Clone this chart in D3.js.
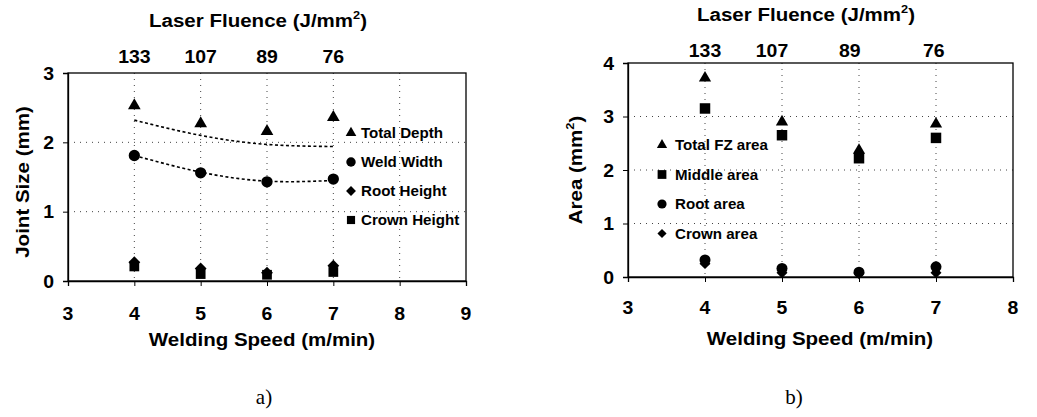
<!DOCTYPE html>
<html>
<head>
<meta charset="utf-8">
<script src="https://cdn.jsdelivr.net/npm/d3@7"></script>
<style>
  html, body { margin: 0; padding: 0; background: #fff; }
  svg { display: block; }
  .sans { font-family: "Liberation Sans", Arial, sans-serif; font-weight: bold; fill: #000; }
  .serif { font-family: "Liberation Serif", "Times New Roman", serif; fill: #000; }
</style>
</head>
<body>
<svg id="fig" width="1037" height="417"></svg>
<script>
// Welding speed positions and the matching laser fluence labels
const speeds = [4, 5, 6, 7];
const fluenceLabels = ["133", "107", "89", "76"];
const fluencePosA = [4, 5, 6, 7];
const fluencePosB = [4, 4.87, 5.88, 6.97];

// Panel a: joint size (mm)
const totalDepth  = [2.53, 2.27, 2.16, 2.36];
const weldWidth   = [1.81, 1.56, 1.43, 1.47];
const rootHeight  = [0.27, 0.18, 0.12, 0.22];
const crownHeight = [0.21, 0.10, 0.09, 0.13];
const depthTrend  = [2.32, 2.10, 1.97, 1.94];
const widthTrend  = [1.81, 1.57, 1.44, 1.45];

// Panel b: fusion zone areas (mm²)
const totalFZ    = [3.72, 2.90, 2.37, 2.86];
const middleArea = [3.15, 2.65, 2.22, 2.60];
const rootArea   = [0.32, 0.16, 0.09, 0.19];
const crownArea  = [0.25, 0.08, 0.06, 0.08];

// Tick values
const xTicksA = [3, 4, 5, 6, 7, 8, 9];
const yTicksA = [0, 1, 2, 3];
const xTicksB = [3, 4, 5, 6, 7, 8];
const yTicksB = [0, 1, 2, 3, 4];

const svg = d3.select("#fig");
const STRETCH = 1.08;

// Bold sans text, slightly widened
function label(parent, x, y, txt, size, anchor = "middle", rotate = 0) {
  const g = parent.append("g")
    .attr("transform", `translate(${x},${y}) rotate(${rotate}) scale(${STRETCH},1)`);
  return g.append("text").attr("class", "sans")
    .attr("font-size", size).attr("text-anchor", anchor).text(txt);
}
function labelSup(parent, x, y, pre, sup, post, size, anchor = "middle", rotate = 0) {
  const g = parent.append("g")
    .attr("transform", `translate(${x},${y}) rotate(${rotate}) scale(${STRETCH},1)`);
  const t = g.append("text").attr("class", "sans")
    .attr("font-size", size).attr("text-anchor", anchor);
  t.append("tspan").text(pre);
  t.append("tspan").attr("font-size", size * 0.62).attr("dy", -size * 0.4).text(sup);
  t.append("tspan").attr("dy", size * 0.4).text(post);
  return t;
}

const symbols = {
  triangle: (s) => d3.symbol().type(d3.symbolTriangle).size(s)(),
  circle:   (s) => d3.symbol().type(d3.symbolCircle).size(s)(),
  square:   (s) => d3.symbol().type(d3.symbolSquare).size(s)()
};
function marker(g, kind, x, y, s) {
  if (kind === "diamond") {
    g.append("path").attr("d", symbols.square(s))
      .attr("transform", `translate(${x},${y}) rotate(45)`).attr("fill", "#000");
  } else {
    g.append("path").attr("d", symbols[kind](s))
      .attr("transform", `translate(${x},${y})`).attr("fill", "#000");
  }
}

function panel(cfg) {
  const g = svg.append("g");
  const x = d3.scaleLinear().domain(cfg.xDomain).range([cfg.left, cfg.right]);
  const y = d3.scaleLinear().domain(cfg.yDomain).range([cfg.bottom, cfg.top]);

  // dotted grid
  const grid = g.append("g").attr("stroke", "#444").attr("stroke-width", 1)
    .attr("stroke-dasharray", "1,5").attr("fill", "none");
  cfg.yGrid.forEach(v => grid.append("line")
    .attr("x1", cfg.left).attr("x2", cfg.right).attr("y1", y(v)).attr("y2", y(v)));
  cfg.xGrid.forEach(v => grid.append("line")
    .attr("x1", x(v)).attr("x2", x(v)).attr("y1", cfg.top).attr("y2", cfg.bottom));

  // plot frame
  g.append("rect").attr("x", cfg.left).attr("y", cfg.top)
    .attr("width", cfg.right - cfg.left).attr("height", cfg.bottom - cfg.top)
    .attr("fill", "none").attr("stroke", "#000").attr("stroke-width", 1.3);

  // axes (ticks only; labels drawn below)
  g.append("g").attr("transform", `translate(0,${cfg.bottom})`)
    .call(d3.axisBottom(x).tickValues(cfg.xTicks).tickSize(5).tickFormat(""))
    .call(a => a.select(".domain").attr("stroke-width", 1.3));
  g.append("g").attr("transform", `translate(${cfg.left},0)`)
    .call(d3.axisLeft(y).tickValues(cfg.yTicks).tickSize(5).tickFormat(""))
    .call(a => a.select(".domain").attr("stroke-width", 1.3));

  cfg.xTicks.forEach(v => label(g, x(v), cfg.xTickBase, String(v), 18));
  cfg.yTicks.forEach(v => label(g, cfg.yTickEnd, y(v) + 6.5, String(v), 18, "end"));
  fluenceLabels.forEach((t, i) => label(g, x(cfg.fluencePos[i]), cfg.topTickBase, t, 18));

  labelSup(g, cfg.titleX, cfg.titleBase, "Laser Fluence (J/mm", "2", ")", 19);
  label(g, cfg.xTitleX, cfg.xTitleBase, "Welding Speed (m/min)", 19);
  cfg.yTitle(g);

  // trend lines
  const line = d3.line().x((d, i) => x(speeds[i])).y(d => y(d)).curve(d3.curveNatural);
  (cfg.trends || []).forEach(tr => g.append("path").attr("d", line(tr))
    .attr("fill", "none").attr("stroke", "#000").attr("stroke-width", 1.6)
    .attr("stroke-dasharray", "3,2.5"));

  // markers
  cfg.series.forEach(s => s.values.forEach((v, i) =>
    marker(g, s.kind, x(speeds[i]), y(v), s.size)));

  // legend
  cfg.series.forEach((s, i) => {
    const ly = cfg.legY + i * cfg.legStep;
    marker(g, s.kind, cfg.legX, ly, s.size * 0.7);
    label(g, cfg.legX + cfg.legGap, ly + 5, s.name, 14, "start");
  });
}

panel({
  xDomain: [3, 9], yDomain: [0, 3],
  left: 68, right: 466, top: 73, bottom: 281,
  xTicks: xTicksA, yTicks: yTicksA, xGrid: [4, 5, 6, 7, 8], yGrid: [1, 2],
  xTickBase: 320, yTickEnd: 54, topTickBase: 63, fluencePos: fluencePosA,
  titleX: 258, titleBase: 27, xTitleX: 262, xTitleBase: 346,
  yTitle: g => label(g, 29, 182, "Joint Size (mm)", 19, "middle", -90),
  trends: [depthTrend, widthTrend],
  series: [
    { name: "Total Depth",  kind: "triangle", size: 70, values: totalDepth },
    { name: "Weld Width",   kind: "circle",   size: 100, values: weldWidth },
    { name: "Root Height",  kind: "diamond",  size: 70, values: rootHeight },
    { name: "Crown Height", kind: "square",   size: 95, values: crownHeight }
  ],
  legX: 351, legGap: 10, legY: 133, legStep: 29
});

panel({
  xDomain: [3, 8], yDomain: [0, 4],
  left: 628, right: 1013, top: 63, bottom: 277,
  xTicks: xTicksB, yTicks: yTicksB, xGrid: [4, 5, 6, 7], yGrid: [1, 2, 3],
  xTickBase: 314, yTickEnd: 614, topTickBase: 57, fluencePos: fluencePosB,
  titleX: 806, titleBase: 21, xTitleX: 820, xTitleBase: 345,
  yTitle: g => labelSup(g, 582, 170, "Area (mm", "2", ")", 19, "middle", -90),
  trends: [],
  series: [
    { name: "Total FZ area", kind: "triangle", size: 65, values: totalFZ },
    { name: "Middle area",   kind: "square",   size: 110, values: middleArea },
    { name: "Root area",     kind: "circle",   size: 95, values: rootArea },
    { name: "Crown area",    kind: "diamond",  size: 60, values: crownArea }
  ],
  legX: 662, legGap: 13, legY: 145, legStep: 29.5
});

// panel captions
svg.append("text").attr("class", "serif").attr("font-size", 21)
  .attr("x", 264).attr("y", 404).attr("text-anchor", "middle").text("a)");
svg.append("text").attr("class", "serif").attr("font-size", 21)
  .attr("x", 794).attr("y", 404).attr("text-anchor", "middle").text("b)");
</script>
</body>
</html>
